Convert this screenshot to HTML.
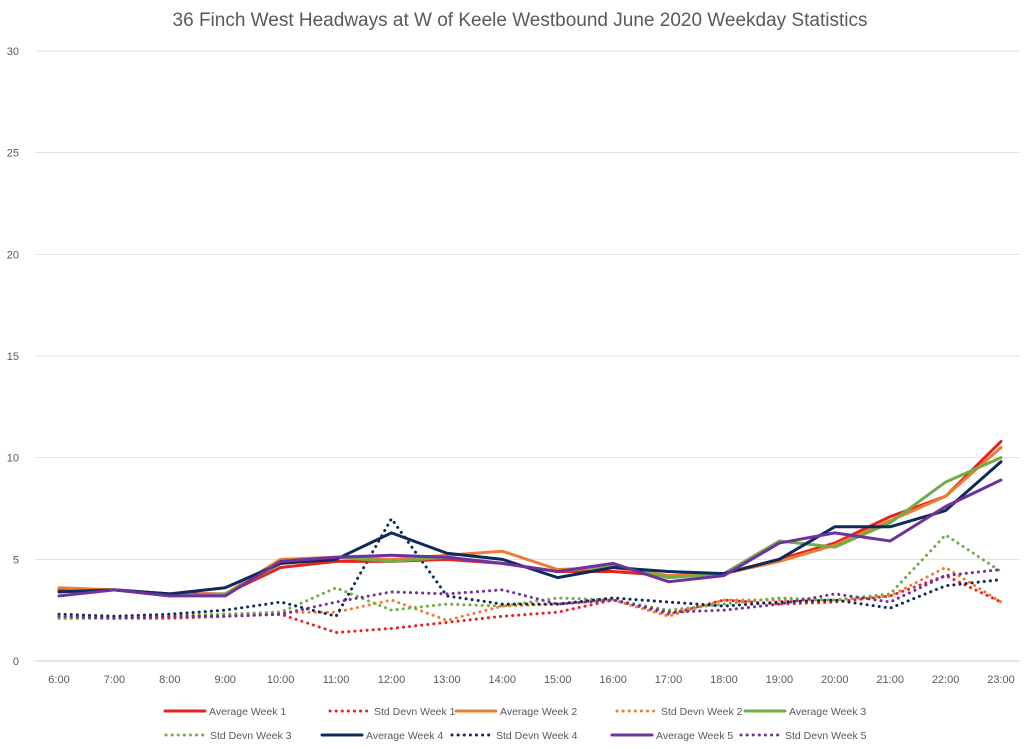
<!DOCTYPE html>
<html><head><meta charset="utf-8"><style>
body{margin:0;background:#fff;font-family:"Liberation Sans",sans-serif}
svg text{font-family:"Liberation Sans",sans-serif}
</style></head><body>
<svg id="chart" width="1024" height="744" xmlns="http://www.w3.org/2000/svg">
<text x="520" y="26" text-anchor="middle" font-size="19" fill="#595959">36 Finch West Headways at W of Keele Westbound June 2020 Weekday Statistics</text>
<g id="grid"></g><g id="series"></g><g id="legend"></g>
</svg>
<script>
const categories=["6:00","7:00","8:00","9:00","10:00","11:00","12:00","13:00","14:00","15:00","16:00","17:00","18:00","19:00","20:00","21:00","22:00","23:00"];
const yTicks=[0,5,10,15,20,25,30];
const avgW1=[3.5,3.5,3.3,3.3,4.6,4.9,4.9,5.0,4.8,4.4,4.4,4.2,4.3,5.0,5.8,7.1,8.1,10.8];
const avgW2=[3.6,3.5,3.2,3.3,5.0,5.1,5.0,5.2,5.4,4.5,4.6,4.2,4.3,4.9,5.7,6.9,8.1,10.5];
const avgW3=[3.4,3.5,3.2,3.3,4.8,5.1,4.9,5.1,4.8,4.4,4.7,4.1,4.3,5.9,5.6,6.8,8.8,10.0];
const avgW4=[3.4,3.5,3.3,3.6,4.8,5.0,6.3,5.3,5.0,4.1,4.6,4.4,4.3,5.0,6.6,6.6,7.4,9.8];
const avgW5=[3.2,3.5,3.2,3.2,4.9,5.1,5.2,5.1,4.8,4.4,4.8,3.9,4.2,5.8,6.3,5.9,7.6,8.9];
const sdW1=[2.1,2.1,2.1,2.2,2.3,1.4,1.6,1.9,2.2,2.4,3.0,2.3,3.0,2.8,2.9,3.2,4.2,2.9];
const sdW2=[2.1,2.2,2.2,2.3,2.4,2.4,3.0,2.0,2.7,2.8,3.0,2.2,3.0,3.0,3.0,3.2,4.6,2.9];
const sdW3=[2.1,2.1,2.2,2.3,2.4,3.6,2.5,2.8,2.7,3.1,3.0,2.5,2.8,3.1,3.0,3.3,6.2,4.4];
const sdW4=[2.3,2.2,2.3,2.5,2.9,2.2,7.0,3.2,2.8,2.8,3.1,2.9,2.7,2.9,3.0,2.6,3.7,4.0];
const sdW5=[2.2,2.1,2.2,2.2,2.3,2.9,3.4,3.3,3.5,2.8,3.0,2.4,2.5,2.8,3.3,2.9,4.2,4.5];
const NS="http://www.w3.org/2000/svg";
const xS=i=>59+i*(1001-59)/17;
const yS=v=>661-v*(661-51)/30;
function mk(t,a,p){const e=document.createElementNS(NS,t);for(const k in a)e.setAttribute(k,a[k]);p.appendChild(e);return e;}
const grid=document.getElementById('grid');
yTicks.forEach(v=>{
  const l=mk('line',{x1:35,x2:1020,y1:yS(v),y2:yS(v),stroke:v===0?'#d0d0d0':'#e0e0e0','stroke-width':1},grid);
  
  
  const t=mk('text',{x:19,y:yS(v)+4,'text-anchor':'end','font-size':11,fill:'#595959'},grid);
  t.textContent=v;
  
  
});
categories.forEach((c,i)=>{
  const t=mk('text',{x:xS(i),y:683,'text-anchor':'middle','font-size':11,fill:'#595959'},grid);
  t.textContent=c;
  
  
});
const series=[
 {n:'Average Week 1',d:avgW1,c:'#e8231f',dot:false},
 {n:'Std Devn Week 1',d:sdW1,c:'#e8231f',dot:true},
 {n:'Average Week 2',d:avgW2,c:'#ed7d31',dot:false},
 {n:'Std Devn Week 2',d:sdW2,c:'#ed7d31',dot:true},
 {n:'Average Week 3',d:avgW3,c:'#70ad47',dot:false},
 {n:'Std Devn Week 3',d:sdW3,c:'#70ad47',dot:true},
 {n:'Average Week 4',d:avgW4,c:'#0e2a5c',dot:false},
 {n:'Std Devn Week 4',d:sdW4,c:'#0e2a5c',dot:true},
 {n:'Average Week 5',d:avgW5,c:'#7030a0',dot:false},
 {n:'Std Devn Week 5',d:sdW5,c:'#7030a0',dot:true}];
const sg=document.getElementById('series');
const order=[1,3,5,7,9,0,2,4,6,8];
order.forEach(k=>{const s=series[k];
  const p=mk('polyline',{points:s.d.map((v,i)=>xS(i)+','+yS(v)).join(' '),fill:'none',stroke:s.c,'stroke-width':3,'stroke-linejoin':'round','stroke-linecap':'round'},sg);
  if(s.dot)p.setAttribute('stroke-dasharray','0.1 6');
  
  
});
const lg=document.getElementById('legend');
const lx=[165,330,456,617,745,166,322,452,612,741];
series.forEach((s,k)=>{
  const y=k<5?711:735, x=lx[k];
  const g=mk('g',{},lg);
  
  
  const l=mk('line',{x1:x,x2:x+40,y1:y,y2:y,stroke:s.c,'stroke-width':3,'stroke-linecap':'round'},g);
  if(s.dot)l.setAttribute('stroke-dasharray','0.1 6');
  const t=mk('text',{x:x+44,y:y+4,'font-size':10.5,fill:'#595959'},g);
  t.textContent=s.n;
});
</script>
</body></html>
